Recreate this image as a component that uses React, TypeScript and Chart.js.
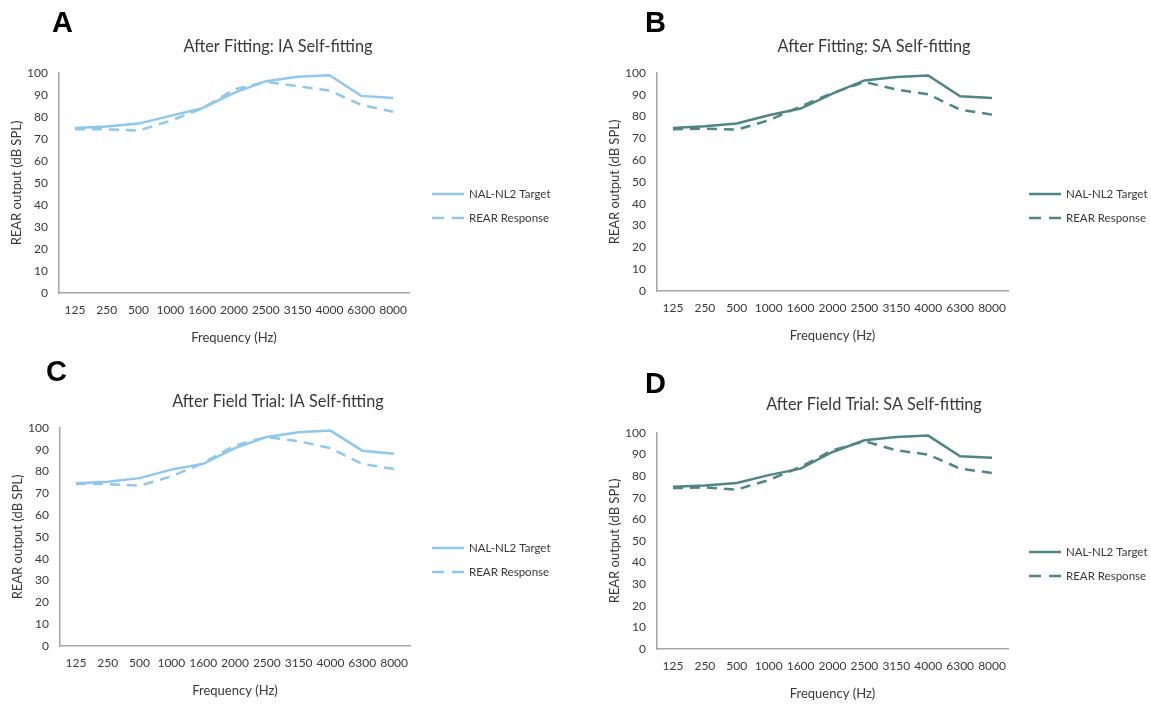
import React, { useEffect, useRef } from 'react';
import { Chart, registerables } from 'chart.js';

Chart.register(...registerables);

// ---------- data ----------
const frequencies = ['125', '250', '500', '1000', '1600', '2000', '2500', '3150', '4000', '6300', '8000'];
const seriesLabels = ['NAL-NL2 Target', 'REAR Response'];

const targetA = [75, 75.7, 77, 80.5, 84, 91, 96.3, 98.3, 99, 89.6, 88.6];
const responseA = [74.4, 74.4, 73.8, 78.3, 83.8, 92.5, 96, 94, 92, 85.5, 82.4];

const targetB = [74.8, 75.6, 76.8, 80.6, 83.7, 90.5, 96.6, 98.2, 98.9, 89.3, 88.5];
const responseB = [74.2, 74.5, 74, 78.3, 84.7, 90.8, 95.9, 92.4, 90.2, 83.2, 80.9];

const targetC = [74.7, 75.3, 77, 80.9, 83.6, 90.8, 95.9, 98, 98.8, 89.6, 88.2];
const responseC = [74.3, 74.3, 73.5, 77.8, 84, 92, 95.9, 93.9, 90.8, 83.5, 81.2];

const targetD = [75.1, 75.7, 76.9, 80.5, 83.5, 91.2, 96.6, 98.2, 98.8, 89.2, 88.5];
const responseD = [74.5, 74.8, 73.8, 78.2, 84.3, 92, 96.2, 92, 90, 83.5, 81.5];

const yMin = 0;
const yMax = 100;
const yStep = 10;

// ---------- styles / layout ----------
const PAGE_W = 1151;
const PAGE_H = 707;
const Y_AXIS_W = 59;
const X_AXIS_H = 55;
const LIGHT_BLUE = '#8ec8ee';
const TEAL = '#4f8587';
const AXIS = '#a6a6a6';
const TEXT = '#383838';
const FONT = 'Lato, "Open Sans", sans-serif';

type Panel = {
  letter: string;
  title: string;
  color: string;
  target: number[];
  response: number[];
  plotLeft: number;
  plotRight: number;
  plotTop: number;
  plotBottom: number;
  titleX: number;
  titleY: number;
  legendX: number;
  legendY: number;
  letterX: number;
  letterY: number;
};

const panels: Panel[] = [
  {
    letter: 'A', title: 'After Fitting: IA Self-fitting', color: LIGHT_BLUE,
    target: targetA, response: responseA,
    plotLeft: 59, plotRight: 409, plotTop: 73, plotBottom: 293,
    titleX: 278, titleY: 47, legendX: 432, legendY: 194, letterX: 52, letterY: 8,
  },
  {
    letter: 'B', title: 'After Fitting: SA Self-fitting', color: TEAL,
    target: targetB, response: responseB,
    plotLeft: 657, plotRight: 1008, plotTop: 73, plotBottom: 291,
    titleX: 874, titleY: 47, legendX: 1029, legendY: 194, letterX: 645, letterY: 8,
  },
  {
    letter: 'C', title: 'After Field Trial: IA Self-fitting', color: LIGHT_BLUE,
    target: targetC, response: responseC,
    plotLeft: 60, plotRight: 410, plotTop: 428, plotBottom: 646,
    titleX: 278, titleY: 402, legendX: 432, legendY: 548, letterX: 46, letterY: 357,
  },
  {
    letter: 'D', title: 'After Field Trial: SA Self-fitting', color: TEAL,
    target: targetD, response: responseD,
    plotLeft: 657, plotRight: 1008, plotTop: 433, plotBottom: 649,
    titleX: 874, titleY: 405, legendX: 1029, legendY: 552, letterX: 645, letterY: 369,
  },
];

const overlayPlugin = {
  id: 'overlay',
  afterDraw(chart: any, _args: any, opts: any) {
    const ctx = chart.ctx as CanvasRenderingContext2D;
    ctx.save();
    ctx.fillStyle = TEXT;
    ctx.font = `16.3px ${FONT}`;
    ctx.textAlign = 'center';
    ctx.textBaseline = 'middle';
    ctx.fillText(opts.title, opts.titleX, opts.titleY);

    chart.data.datasets.forEach((ds: any, i: number) => {
      const y = opts.legendY + i * 24;
      ctx.strokeStyle = ds.borderColor;
      ctx.lineWidth = ds.borderWidth;
      ctx.setLineDash(ds.borderDash && ds.borderDash.length ? [12, 8] : []);
      ctx.beginPath();
      ctx.moveTo(opts.legendX, y);
      ctx.lineTo(opts.legendX + 32, y);
      ctx.stroke();
      ctx.setLineDash([]);
      ctx.fillStyle = TEXT;
      ctx.font = `11.5px ${FONT}`;
      ctx.textAlign = 'left';
      ctx.fillText(ds.label, opts.legendX + 37, y);
    });
    ctx.restore();
  },
};

function PanelChart({ panel }: { panel: Panel }) {
  const ref = useRef<HTMLCanvasElement | null>(null);

  useEffect(() => {
    if (!ref.current) return;
    const chart = new Chart(ref.current, {
      type: 'line',
      data: {
        labels: frequencies,
        datasets: [
          {
            label: seriesLabels[0],
            data: panel.target,
            borderColor: panel.color,
            backgroundColor: panel.color,
            borderWidth: 2.5,
            pointRadius: 0,
            tension: 0,
            fill: false,
          },
          {
            label: seriesLabels[1],
            data: panel.response,
            borderColor: panel.color,
            backgroundColor: panel.color,
            borderWidth: 2.5,
            borderDash: [10, 7],
            pointRadius: 0,
            tension: 0,
            fill: false,
          },
        ],
      },
      options: {
        responsive: false,
        maintainAspectRatio: false,
        animation: false,
        devicePixelRatio: 1,
        events: [],
        layout: {
          padding: {
            left: panel.plotLeft - Y_AXIS_W,
            right: PAGE_W - panel.plotRight,
            top: panel.plotTop,
            bottom: PAGE_H - panel.plotBottom - X_AXIS_H,
          },
        },
        plugins: {
          legend: { display: false },
          title: { display: false },
          tooltip: { enabled: false },
          overlay: {
            title: panel.title,
            titleX: panel.titleX,
            titleY: panel.titleY,
            legendX: panel.legendX,
            legendY: panel.legendY,
          },
        } as any,
        scales: {
          x: {
            type: 'category',
            offset: true,
            grid: { display: false, drawTicks: false },
            border: { display: true, color: AXIS, width: 1.5 },
            ticks: {
              color: TEXT,
              font: { family: FONT, size: 12 },
              padding: 10,
              maxRotation: 0,
              autoSkip: false,
            },
            title: {
              display: true,
              text: 'Frequency (Hz)',
              color: TEXT,
              font: { family: FONT, size: 13 },
              padding: { top: 0, bottom: 2 },
            },
            afterFit: (s: any) => {
              s.height = X_AXIS_H;
            },
          },
          y: {
            min: yMin,
            max: yMax,
            grid: { display: false, drawTicks: false },
            border: { display: true, color: AXIS, width: 1.5 },
            ticks: {
              stepSize: yStep,
              color: TEXT,
              font: { family: FONT, size: 12 },
              padding: 11,
            },
            title: {
              display: true,
              text: 'REAR output (dB SPL)',
              color: TEXT,
              font: { family: FONT, size: 13 },
              padding: { top: 9, bottom: 0 },
            },
            afterFit: (s: any) => {
              s.width = Y_AXIS_W;
            },
          },
        },
      } as any,
      plugins: [overlayPlugin],
    });
    return () => chart.destroy();
  }, [panel]);

  return (
    <canvas
      ref={ref}
      width={PAGE_W}
      height={PAGE_H}
      style={{ position: 'absolute', left: 0, top: 0, width: PAGE_W, height: PAGE_H }}
    />
  );
}

export default function App() {
  return (
    <div
      style={{
        position: 'fixed',
        left: 0,
        top: 0,
        width: PAGE_W,
        height: PAGE_H,
        background: '#ffffff',
        overflow: 'hidden',
      }}
    >
      {panels.map((p) => (
        <PanelChart key={p.letter} panel={p} />
      ))}
      {panels.map((p) => (
        <div
          key={'l' + p.letter}
          style={{
            position: 'absolute',
            left: p.letterX,
            top: p.letterY,
            fontFamily: '"Liberation Sans", Arial, sans-serif',
            fontWeight: 'bold',
            fontSize: 29,
            lineHeight: '29px',
            color: '#000',
          }}
        >
          {p.letter}
        </div>
      ))}
    </div>
  );
}
